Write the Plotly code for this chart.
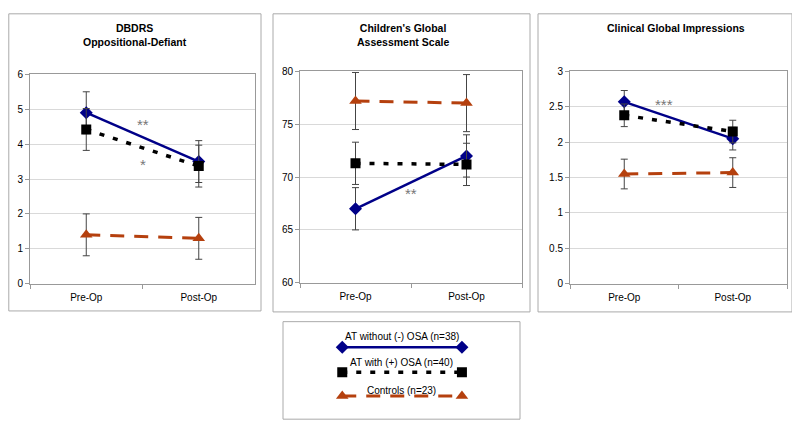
import plotly.graph_objects as go

# reference picture size and the page body margin that shifts the figure
W, H = 800, 434
OFF = 8
FW, FH = W - 2 * OFF, H - 2 * OFF
FONT = "Liberation Sans, Arial, sans-serif"

# ---- data ----
timepoints = ["Pre-Op", "Post-Op"]

series_names = ["AT without (-) OSA (n=38)", "AT with (+) OSA (n=40)", "Controls (n=23)"]

# DBDRS Oppositional-Defiant
dbdrs_without = [4.9, 3.5]
dbdrs_with = [4.42, 3.37]
dbdrs_controls = [1.4, 1.3]
dbdrs_err = [0.6, 0.6, 0.6]

# Children's Global Assessment Scale
cgas_without = [67.0, 72.0]
cgas_with = [71.3, 71.2]
cgas_controls = [77.2, 77.0]
cgas_err = [2.0, 2.0, 2.7]

# Clinical Global Impressions
cgi_without = [2.57, 2.05]
cgi_with = [2.38, 2.15]
cgi_controls = [1.55, 1.57]
cgi_err = [0.16, 0.16, 0.21]

panel_titles = ["DBDRS<br>Oppositional-Defiant",
                "Children's Global<br>Assessment Scale",
                "Clinical Global Impressions"]
y_ranges = [[0, 6], [60, 80], [0, 3]]
y_dticks = [1, 5, 0.5]

# significance markers (x in category units, y in data units)
sig_marks = [
    [("**", 0.5, 4.55), ("*", 0.5, 3.42)],
    [("**", 0.5, 68.4)],
    [("***", 0.37, 2.53)],
]

panels = [
    (dbdrs_without, dbdrs_with, dbdrs_controls, dbdrs_err),
    (cgas_without, cgas_with, cgas_controls, cgas_err),
    (cgi_without, cgi_with, cgi_controls, cgi_err),
]

# ---- styles ----
NAVY = "#000088"
ORANGE = "#B5400E"
styles = [
    dict(line=dict(color=NAVY, width=2.5, dash="solid"),
         marker=dict(symbol="diamond", size=10, color=NAVY)),
    dict(line=dict(color="black", width=3.5, dash="5px,9px"),
         marker=dict(symbol="square", size=10, color="black")),
    dict(line=dict(color=ORANGE, width=3, dash="14px,10px"),
         marker=dict(symbol="triangle-up", size=11, color=ORANGE)),
]


# reference pixel positions -> paper coordinates
def px(v):
    return min(max((v - OFF) / FW, 0.0), 1.0)


def py(v):
    return min(max((FH + OFF - v) / FH, 0.0), 1.0)


plot_x = [[px(30), px(255)], [px(300), px(522)], [px(570), px(787)]]
plot_y = [[py(286), py(71)], [py(285), py(68)], [py(286), py(68)]]
boxes = [(5, 7, 261, 314), (273, 7, 530, 315), (538, 7, 795, 315)]
title_x = [135, 403, 676]

fig = go.Figure()

for i, (s_without, s_with, s_controls, errs) in enumerate(panels):
    ax = "" if i == 0 else str(i + 1)
    data = [s_without, s_with, s_controls]
    for k in range(3):
        fig.add_trace(go.Scatter(
            x=timepoints, y=data[k], mode="lines+markers",
            name=series_names[k], showlegend=False,
            line=styles[k]["line"], marker=styles[k]["marker"],
            error_y=dict(type="constant", value=errs[k], color="#444444",
                         thickness=1, width=3.5),
            xaxis="x" + ax, yaxis="y" + ax,
        ))
    for txt, sx, sy in sig_marks[i]:
        fig.add_annotation(x=sx, y=sy, xref="x" + ax, yref="y" + ax, text=txt,
                           showarrow=False, font=dict(size=15, color="#777777"))

    axis_common = dict(showline=True, linecolor="#999999", linewidth=1, mirror=True,
                       ticks="outside", ticklen=4, tickcolor="#999999",
                       tickfont=dict(size=10, color="black", family=FONT))
    fig.update_layout(**{
        "xaxis" + ax: dict(domain=plot_x[i], anchor="y" + ax, type="category",
                           range=[-0.5, 1.5], tickson="boundaries", showgrid=False,
                           zeroline=False, ticklabelstandoff=4, **axis_common),
        "yaxis" + ax: dict(domain=plot_y[i], anchor="x" + ax, range=y_ranges[i],
                           dtick=y_dticks[i], showgrid=True, gridcolor="#d9d9d9",
                           zeroline=False, **axis_common),
    })
    x0, y0, x1, y1 = boxes[i]
    fig.add_shape(type="rect", xref="paper", yref="paper",
                  x0=max(px(x0), 0.001), x1=px(x1), y0=py(y1), y1=min(py(y0), 0.998),
                  line=dict(color="#aaaaaa", width=1))
    fig.add_annotation(x=px(title_x[i]), y=py(15), xref="paper", yref="paper",
                       text="<b>" + panel_titles[i] + "</b>", showarrow=False,
                       xanchor="center", yanchor="top",
                       font=dict(size=10.5, color="black", family=FONT))

# ---- custom legend box ----
leg_y = [0.74, 0.485, 0.245]
leg_text_y = [0.85, 0.585, 0.305]
for k in range(3):
    fig.add_trace(go.Scatter(
        x=[0.25, 0.755], y=[leg_y[k], leg_y[k]], mode="lines+markers",
        showlegend=False, hoverinfo="skip",
        line=styles[k]["line"], marker=styles[k]["marker"],
        xaxis="x4", yaxis="y4",
    ))
    fig.add_annotation(x=0.5, y=leg_text_y[k], xref="x4", yref="y4",
                       text=series_names[k], showarrow=False,
                       font=dict(size=10, color="black", family=FONT))
fig.update_layout(
    xaxis4=dict(domain=[px(283), px(520)], anchor="y4", range=[0, 1], visible=False),
    yaxis4=dict(domain=[py(426), py(325)], anchor="x4", range=[0, 1], visible=False),
)
fig.add_shape(type="rect", xref="paper", yref="paper",
              x0=px(283), x1=px(520), y0=max(py(428), 0.002), y1=py(325),
              line=dict(color="#aaaaaa", width=1))

fig.update_layout(
    width=FW, height=FH,
    margin=dict(l=0, r=0, t=0, b=0),
    paper_bgcolor="white", plot_bgcolor="white",
    font=dict(family=FONT, color="black"),
)

fig.write_html("out.html")
